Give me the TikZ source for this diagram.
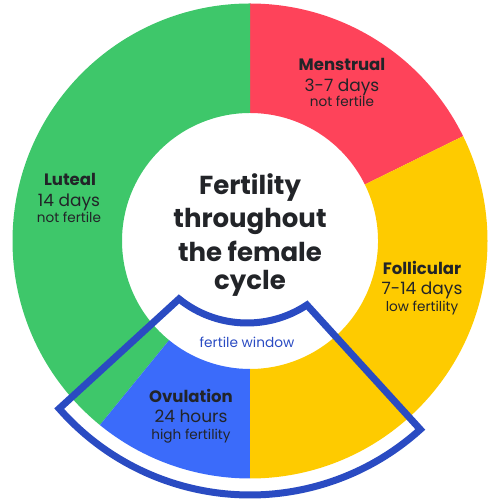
\documentclass[tikz,border=0pt]{standalone}
\usepackage{fontspec}
\usetikzlibrary{calc}
\setmainfont{Poppins}
\definecolor{segred}{RGB}{254,67,90}
\definecolor{segyellow}{RGB}{254,203,0}
\definecolor{seggreen}{RGB}{62,199,106}
\definecolor{segblue}{RGB}{59,107,250}
\definecolor{outblue}{RGB}{42,75,194}
\definecolor{txt}{RGB}{34,36,40}
\begin{document}
\begin{tikzpicture}[x=1pt,y=1pt,
  phase/.style={anchor=base,text=txt,inner sep=0pt,font=\fontsize{16.5}{19}\selectfont\bfseries},
  dur/.style={anchor=base,text=txt,inner sep=0pt,font=\fontsize{17}{20}\selectfont},
  fert/.style={anchor=base,text=txt,inner sep=0pt,font=\fontsize{13.6}{16}\selectfont},
  ttl/.style={anchor=base,text=txt,inner sep=0pt,font=\fontsize{26}{30}\selectfont\bfseries},
  win/.style={anchor=base,text=outblue,inner sep=0pt,font=\fontsize{13.7}{16}\selectfont}]
\useasboundingbox (0,0) rectangle (501,500);
\coordinate (C) at (250,259);
\def\Ro{237.5}\def\Ri{128}
\begin{scope}[shift={(C)}]
\fill[segred] (26.2:\Ro) arc[start angle=26.2,end angle=90,radius=\Ro] -- (90:\Ri) arc[start angle=90,end angle=26.2,radius=\Ri] -- cycle;
\fill[seggreen] (90:\Ro) arc[start angle=90,end angle=230.8,radius=\Ro] -- (230.8:\Ri) arc[start angle=230.8,end angle=90,radius=\Ri] -- cycle;
\fill[segblue] (230.8:\Ro) arc[start angle=230.8,end angle=270,radius=\Ro] -- (270:\Ri) arc[start angle=270,end angle=230.8,radius=\Ri] -- cycle;
\fill[segyellow] (-90:\Ro) arc[start angle=-90,end angle=26.2,radius=\Ro] -- (26.2:\Ri) arc[start angle=26.2,end angle=-90,radius=\Ri] -- cycle;
\end{scope}
% fertile window outline
\coordinate (IC) at (247.1,285.4);
\draw[outblue,line width=7pt,line join=miter]
  ($(C)+(221.3:254)$) coordinate (oL) arc[start angle=221.3,end angle=312.1,radius=254] coordinate (oR)
  -- ($(IC)+(303.5:108.4)$) coordinate (iR) arc[start angle=303.5,end angle=231.1,radius=108.4] coordinate (iL)
  -- cycle;
% labels
\node[phase] (mens) at (342,429) {Menstrual};
\node[dur] (mensd) at (342,408) {3-7 days};
\node[fert] (mensf) at (342,393) {not fertile};
\node[phase] (lut) at (70,314) {Luteal};
\node[dur] (lutd) at (69,293) {14 days};
\node[fert] (lutf) at (69,277) {not fertile};
\node[phase] (fol) at (422,225) {Follicular};
\node[dur] (fold) at (422,205) {7-14 days};
\node[fert] (folf) at (422,188) {low fertility};
\node[phase] (ovu) at (191,97) {Ovulation};
\node[dur] (ovud) at (191,77) {24 hours};
\node[fert] (ovuf) at (191,60) {high fertility};
\node[win] (win) at (247,152) {fertile window};
\node[ttl] (t1) at (250,305) {Fertility};
\node[ttl] (t2) at (250,272) {throughout};
\node[ttl] (t3) at (250,238.5) {the female};
\node[ttl] (t4) at (250,210) {cycle};
\end{tikzpicture}
\end{document}
